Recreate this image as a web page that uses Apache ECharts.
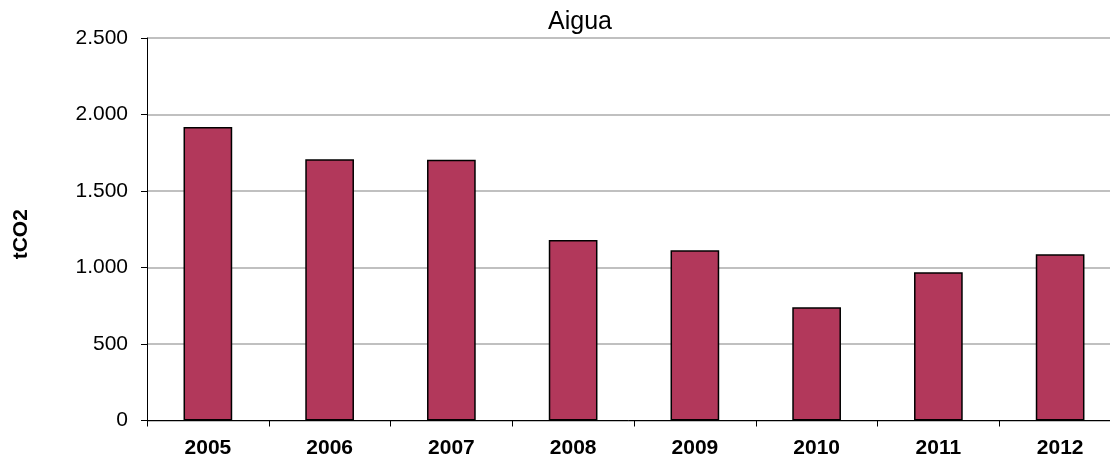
<!DOCTYPE html>
<html>
<head>
<meta charset="utf-8">
<script src="https://cdn.jsdelivr.net/npm/echarts@6/dist/echarts.min.js"></script>
<style>
html,body{margin:0;padding:0;background:#fff;}
#chart{width:1110px;height:455px;}
</style>
</head>
<body>
<div id="chart"></div>
<script>
const chartTitle = 'Aigua';
const yAxisName = 'tCO2';
const years = ['2005', '2006', '2007', '2008', '2009', '2010', '2011', '2012'];
const emissions = [1918, 1707, 1705, 1180, 1112, 741, 969, 1087];
const yTicks = [0, 500, 1000, 1500, 2000, 2500];

function fmt(v) {
  return String(v).replace(/\B(?=(\d{3})+(?!\d))/g, '.');
}

const chart = echarts.init(document.getElementById('chart'), null, {renderer: 'canvas'});
chart.setOption({
  animation: false,
  backgroundColor: '#ffffff',
  textStyle: {fontFamily: '"Liberation Sans", Arial, sans-serif'},
  title: {
    text: chartTitle,
    left: 548,
    top: 10,
    padding: 0,
    textStyle: {fontSize: 25, fontWeight: 'normal', color: '#000', fontFamily: '"Liberation Sans", Arial, sans-serif'}
  },
  grid: {left: 147, top: 38, right: -11, bottom: 34.5, containLabel: false, outerBoundsMode: 'none'},
  xAxis: {
    type: 'category',
    data: years,
    axisLine: {lineStyle: {color: '#000', width: 1}},
    axisTick: {show: true, length: 6, alignWithLabel: false, lineStyle: {color: '#000'}},
    axisLabel: {margin: 17, fontSize: 21, fontWeight: 'bold', color: '#000', fontFamily: '"Liberation Sans", Arial, sans-serif'}
  },
  yAxis: {
    type: 'value',
    min: yTicks[0],
    max: yTicks[yTicks.length - 1],
    interval: 500,
    name: yAxisName,
    nameLocation: 'middle',
    nameGap: 115,
    nameRotate: 90,
    nameTextStyle: {fontSize: 21, fontWeight: 'bold', color: '#000', padding: [0, 10, 0, 0], fontFamily: '"Liberation Sans", Arial, sans-serif'},
    axisLine: {show: true, lineStyle: {color: '#000', width: 1}},
    axisTick: {show: true, length: 6, lineStyle: {color: '#000'}},
    axisLabel: {margin: 19, fontSize: 21, color: '#000', formatter: fmt, fontFamily: '"Liberation Sans", Arial, sans-serif'},
    splitLine: {show: true, lineStyle: {color: '#c0c0c0', width: 2}}
  },
  series: [{
    type: 'bar',
    data: emissions,
    barWidth: '40%',
    itemStyle: {color: '#b2385b', borderColor: '#000', borderWidth: 1.5}
  }]
});
</script>
</body>
</html>
